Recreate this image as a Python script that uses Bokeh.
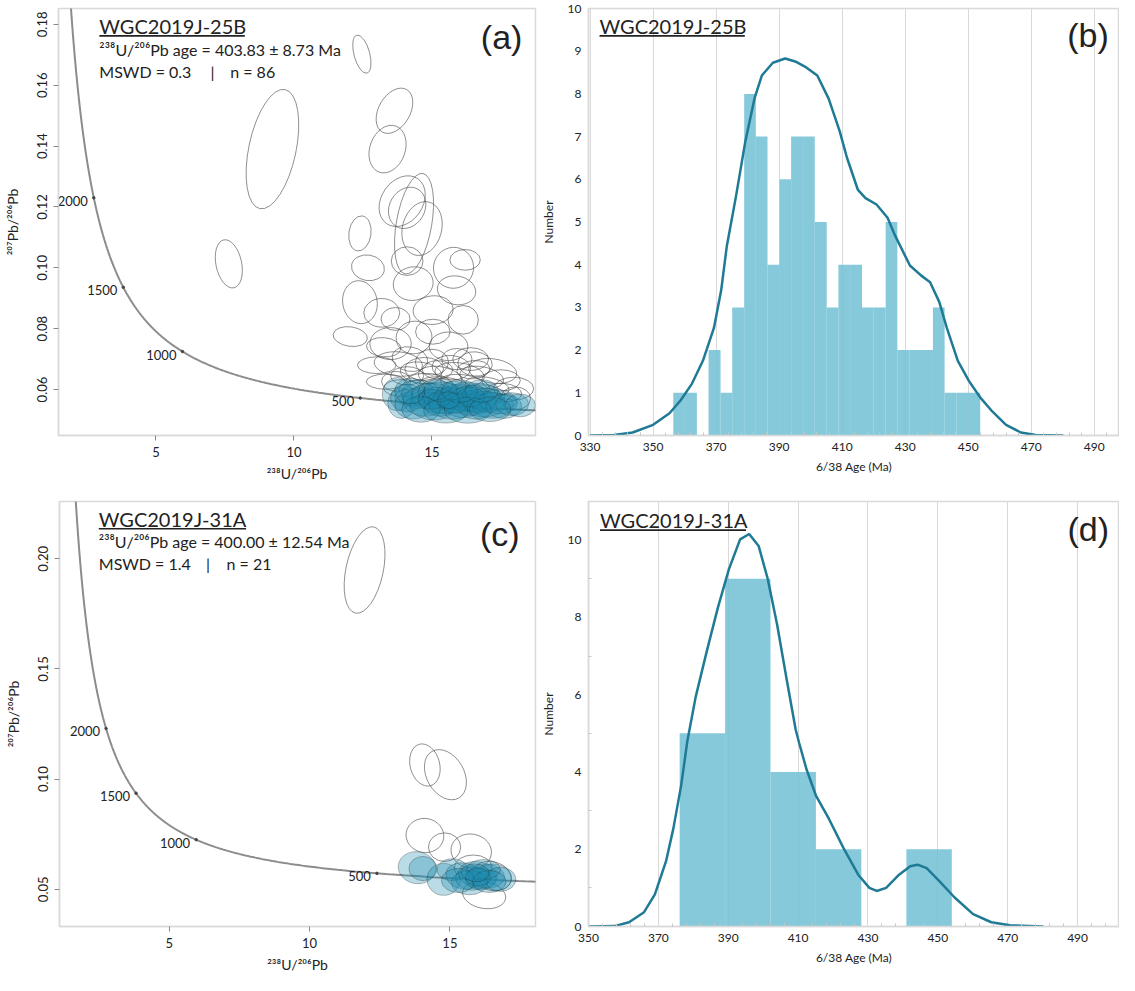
import numpy as np
from bokeh.plotting import figure
from bokeh.layouts import row, column
from bokeh.models import FixedTicker, NumeralTickFormatter, ColumnDataSource
from bokeh.core.properties import value
from bokeh.embed import file_html
from bokeh.resources import INLINE

# ---------------- data ----------------
# Tera-Wasserburg concordia constants
L238 = 1.55125e-10
L235 = 9.8485e-10
U85 = 137.88
CONC_MARK_AGES = [500, 1000, 1500, 2000]
CONC_MARK_LABELS = ["500", "1000", "1500", "2000"]

# (a) WGC2019J-25B  discordant / excluded ellipses (x, y, width, height, angle deg)
A_GRAY_X = [9.22, 7.64, 12.46, 13.64, 13.39, 13.92, 14.35, 14.10, 14.64, 12.39, 12.68, 15.78, 16.2, 14.32,
            12.39, 12.04, 14.10, 15.89, 13.18, 13.68, 15.04, 16.13, 15.03, 14.35, 13.25, 15.6, 16.56, 13.78,
            14.72, 17.2, 13.32, 17.96, 18.02,
            13.5, 13.0, 13.7, 14.2, 14.6, 15.0, 15.3, 15.7, 16.0, 16.4, 16.8, 14.1, 14.9, 15.5, 16.2, 17.0,
            17.5, 14.5, 15.2, 16.5, 13.9, 15.9, 17.6, 16.9, 15.0, 14.3, 16.0, 17.3]
A_GRAY_Y = [0.139, 0.1013, 0.1702, 0.1516, 0.139, 0.1219, 0.1145, 0.1197, 0.1129, 0.1113, 0.100, 0.100, 0.1026, 0.0948,
            0.0887, 0.0774, 0.1022, 0.0926, 0.0852, 0.0832, 0.0861, 0.0829, 0.079, 0.0771, 0.0739, 0.0742, 0.0684, 0.0684,
            0.0668, 0.0661, 0.0626, 0.0603, 0.0571,
            0.0751, 0.0680, 0.0627, 0.0700, 0.0655, 0.0690, 0.0640, 0.0672, 0.0650, 0.0700, 0.0640, 0.0645, 0.0620, 0.0610,
            0.0615, 0.0610, 0.0630, 0.0600, 0.0665, 0.0665, 0.0605, 0.0700, 0.0590, 0.0585, 0.0590, 0.0575, 0.0575, 0.0560]
A_GRAY_W = [1.71, 0.93, 0.57, 1.14, 1.28, 1.5, 1.28, 1.28, 1.42, 0.8, 1.2, 1.45, 1.1, 1.45,
            1.25, 1.25, 1.15, 1.4, 1.3, 1.05, 1.45, 1.1, 1.25, 1.3, 1.25, 1.4, 1.25, 1.75,
            1.4, 1.75, 1.4, 1.45, 1.1,
            1.5, 1.4, 1.05, 1.3, 1.5, 1.2, 1.6, 1.4, 1.8, 1.3, 1.6, 1.2, 1.7, 1.9, 1.8, 1.6,
            1.4, 1.4, 1.1, 1.2, 1.3, 1.1, 1.3, 1.5, 1.5, 1.3, 1.6, 1.5]
A_GRAY_H = [0.040, 0.0161, 0.0129, 0.0161, 0.0161, 0.018, 0.0335, 0.0142, 0.018, 0.0116, 0.0084, 0.0135, 0.0068, 0.011,
            0.0142, 0.0064, 0.0094, 0.0094, 0.0094, 0.0075, 0.0094, 0.0094, 0.0082, 0.0107, 0.0063, 0.0094, 0.008, 0.008,
            0.0075, 0.008, 0.005, 0.0075, 0.0075,
            0.0105, 0.0055, 0.0065, 0.0080, 0.0070, 0.0085, 0.0070, 0.0080, 0.0075, 0.0075, 0.0070, 0.0060, 0.0065, 0.0060,
            0.0065, 0.0060, 0.0070, 0.0060, 0.0060, 0.0060, 0.0055, 0.0070, 0.0060, 0.0060, 0.0060, 0.0055, 0.0060, 0.0055]
A_GRAY_ANG = [-12, 12, 15, -30, -20, -35, -10, -30, -15, -8, -10, -20, 0, 10,
              10, -8, 0, -10, 0, 0, 5, 0, 0, 10, -5, 0, -5, -5,
              0, -8, 0, 0, 0,
              0, 0, 0, -10, -8, 0, -10, -5, -8, 0, -10, 0, -5, -8, -10, -10,
              0, 0, 0, 5, 0, 0, -5, -5, 0, 0, -8, 0]

# (a) concordant analyses (filled)
A_CYAN_X = [13.75, 13.9, 14.1, 14.3, 14.5, 14.7, 14.9, 15.0, 15.1, 15.2, 15.3, 15.4, 15.5, 15.6, 15.7, 15.8,
            15.9, 16.0, 16.1, 16.2, 16.3, 16.4, 16.5, 16.6, 16.7, 16.8, 16.9, 17.0, 17.2, 17.4, 17.6, 17.9,
            18.2, 15.0, 15.8, 16.4, 14.6, 15.5, 16.3, 17.1, 14.2, 15.3, 16.0, 16.8, 15.6]
A_CYAN_Y = [0.0585, 0.0555, 0.0572, 0.0548, 0.0585, 0.0560, 0.0578, 0.0545, 0.0590, 0.0565, 0.0552, 0.0580,
            0.0560, 0.0572, 0.0548, 0.0585, 0.0562, 0.0575, 0.0550, 0.0568, 0.0582, 0.0555, 0.0570, 0.0545,
            0.0562, 0.0578, 0.0552, 0.0565, 0.0548, 0.0560, 0.0545, 0.0552, 0.0548, 0.0568, 0.0555, 0.0575,
            0.0535, 0.0530, 0.0532, 0.0535, 0.0595, 0.0598, 0.0595, 0.0595, 0.0565]
A_CYAN_W = [1.1, 1.0, 1.2, 1.3, 1.2, 1.5, 1.3, 1.6, 1.2, 1.4, 1.2, 1.5, 1.3, 1.1, 1.6, 1.3,
            1.2, 1.5, 1.4, 1.2, 1.4, 1.3, 1.6, 1.3, 1.2, 1.4, 1.5, 1.3, 1.5, 1.4, 1.3, 1.2,
            1.1, 1.0, 1.0, 1.0, 1.4, 1.6, 1.7, 1.5, 1.1, 1.2, 1.3, 1.2, 0.8]
A_CYAN_H = [0.0110, 0.0100, 0.0090, 0.0090, 0.0095, 0.0095, 0.0085, 0.0090, 0.0085, 0.0085, 0.0080, 0.0090,
            0.0080, 0.0075, 0.0090, 0.0085, 0.0080, 0.0085, 0.0085, 0.0080, 0.0085, 0.0080, 0.0085, 0.0085,
            0.0080, 0.0085, 0.0085, 0.0080, 0.0085, 0.0080, 0.0080, 0.0075, 0.0075, 0.0065, 0.0065, 0.0065,
            0.0085, 0.0080, 0.0085, 0.0080, 0.0085, 0.0075, 0.0075, 0.0075, 0.0055]
A_CYAN_ANG = [0, 0, 0, -5, 0, -5, 0, -5, 0, -5, 0, -5, 0, 0, -5, 0,
              -5, 0, -5, 0, -5, 0, -5, 0, 0, -5, 0, -5, 0, -5, 0, 0,
              0, 0, 0, 0, 0, 0, 0, 0, 0, 0, 0, 0, 0]

# (b) histogram WGC2019J-25B
B_EDGES = [356.4, 360.1, 363.9, 367.6, 371.4, 375.1, 378.9, 382.6, 386.3, 390.1, 393.8, 397.6, 401.3, 405.1,
           408.8, 412.5, 416.3, 420.0, 423.8, 427.5, 431.3, 435.0, 438.8, 442.5, 446.3, 450.0, 453.8]
B_COUNTS = [1, 1, 0, 2, 1, 3, 8, 7, 4, 6, 7, 7, 5, 3, 4, 4, 3, 3, 5, 2, 2, 2, 3, 1, 1, 1]
B_KDE_X = [330, 337.6, 343.5, 350, 355.2, 358.7, 362.3, 365.8, 369.3, 371.6, 373.4, 376.3, 379.3, 382.2, 384.5,
           388.0, 391.9, 395.1, 398.6, 402.1, 405.7, 409.2, 411.5, 415.0, 417.4, 420.9, 424.4, 426.8, 431.5,
           435.0, 437.9, 440.8, 443.2, 446.7, 450.2, 453.7, 457.3, 462.0, 466.7, 471.4, 480.2]
B_KDE_Y = [0, 0.01, 0.07, 0.25, 0.52, 0.82, 1.21, 1.75, 2.52, 3.4, 4.44, 5.6, 6.9, 7.9, 8.43,
           8.73, 8.83, 8.76, 8.62, 8.43, 7.89, 7.13, 6.51, 5.75, 5.56, 5.41, 5.1, 4.68, 3.98,
           3.75, 3.59, 3.13, 2.52, 1.75, 1.28, 0.9, 0.59, 0.25, 0.07, 0.01, 0]

# (c) WGC2019J-31A
C_GRAY_X = [11.96, 14.11, 14.84, 14.11, 14.81, 15.76, 15.83, 16.22, 16.5]
C_GRAY_Y = [0.1949, 0.1064, 0.102, 0.0744, 0.0691, 0.0673, 0.0598, 0.0474, 0.0560]
C_GRAY_W = [1.33, 1.05, 1.33, 1.35, 1.15, 1.45, 1.35, 1.55, 1.4]
C_GRAY_H = [0.040, 0.0195, 0.0244, 0.0155, 0.013, 0.0155, 0.0115, 0.0122, 0.013]
C_GRAY_ANG = [-12, 15, 30, -10, 0, -10, 0, -10, -15]
C_CYAN_X = [13.83, 14.04, 14.78, 15.09, 15.5, 15.8, 16.0, 16.1, 16.3, 16.6, 16.8, 15.7, 16.2, 15.3, 16.0, 16.4, 15.9]
C_CYAN_Y = [0.0598, 0.0594, 0.0545, 0.0589, 0.0560, 0.0550, 0.0565, 0.0548, 0.0560, 0.0555, 0.0545, 0.0530,
            0.0590, 0.0540, 0.0555, 0.0535, 0.0575]
C_CYAN_W = [1.35, 1.0, 1.2, 1.1, 1.3, 1.2, 1.4, 1.1, 1.3, 1.2, 1.1, 1.3, 1.2, 1.2, 0.9, 1.2, 1.0]
C_CYAN_H = [0.0145, 0.011, 0.0145, 0.010, 0.012, 0.011, 0.012, 0.010, 0.011, 0.012, 0.011, 0.011, 0.009,
            0.011, 0.008, 0.010, 0.008]
C_CYAN_ANG = [-10, 0, 0, 0, -10, 0, -10, 0, -5, -10, 0, 0, 0, 0, 0, 0, -5]

# (d) histogram WGC2019J-31A
D_EDGES = [376.1, 389.1, 402.1, 415.1, 428.1, 441.0, 454.0]
D_COUNTS = [5, 9, 4, 2, 0, 2]
D_KDE_X = [350, 357.4, 361.6, 365.9, 369.0, 372.2, 374.3, 376.5, 378.3, 380.7, 383.9, 387.0, 390.2, 393.4, 396.0,
           398.7, 401.3, 404.0, 406.6, 409.3, 410.3, 412.4, 415.1, 418.8, 423.0, 427.2, 430.4, 432.5, 435.2,
           438.9, 442.1, 444.2, 446.8, 450.5, 454.8, 460.1, 465.3, 470.6, 480.2]
D_KDE_Y = [0, 0.01, 0.11, 0.37, 0.83, 1.69, 2.54, 3.64, 4.8, 5.95, 7.14, 8.24, 9.25, 10.02, 10.16,
           9.85, 9.0, 7.81, 6.46, 5.1, 4.75, 4.07, 3.39, 2.79, 2.03, 1.34, 1.0, 0.92, 1.0,
           1.34, 1.56, 1.6, 1.51, 1.17, 0.75, 0.32, 0.11, 0.03, 0]

# ---------------- styling ----------------
FONT = "Lato"
FRAME = "#d9d9d9"
TXT = "#222222"
BAR = "#71c0d5"
KDE = "#1f7a96"
CYAN = "#1a8aae"


def concordia(ages_ma):
    t = np.asarray(ages_ma, dtype=float) * 1e6
    e238 = np.expm1(L238 * t)
    e235 = np.expm1(L235 * t)
    return 1.0 / e238, e235 / e238 / U85


def base_fig(w, h, xr, yr, left, right, top, bottom):
    p = figure(width=w, height=h, x_range=xr, y_range=yr, output_backend="svg", toolbar_location=None,
               min_border_left=left, min_border_right=right, min_border_top=top, min_border_bottom=bottom)
    p.outline_line_color = FRAME
    p.outline_line_width = 1.5
    for ax in (p.xaxis[0], p.yaxis[0]):
        ax.axis_line_color = FRAME
        ax.axis_line_width = 1.5
        ax.major_label_text_font = FONT
        ax.major_label_text_color = TXT
        ax.axis_label_text_font = FONT
        ax.axis_label_text_font_style = "normal"
        ax.axis_label_text_color = TXT
    p.xgrid.grid_line_color = None
    p.ygrid.grid_line_color = None
    return p


def add_ellipses(p, xs, ys, ws, hs, angs, **kw):
    src = ColumnDataSource(dict(x=xs, y=ys, w=ws, h=hs, a=angs))
    p.ellipse(x="x", y="y", width="w", height="h", angle="a", angle_units="deg", source=src, **kw)


def add_text(p, x, y, text, size, font=FONT):
    p.text(x=[x], y=[y], text=[text], text_font=value(font), text_font_size=size, text_color=TXT,
           text_baseline="middle", text_align="left")


def underline(p, x0, x1, y):
    p.segment(x0=[x0], y0=[y], x1=[x1], y1=[y], line_color=TXT, line_width=1.6)


def conc_panel(p, ages):
    cx, cy = concordia(ages)
    p.line(cx, cy, line_color="#8c8c8c", line_width=2)
    mx, my = concordia(CONC_MARK_AGES)
    p.scatter(mx, my, size=2.5, color="#444444")
    p.text(x=mx, y=my, text=CONC_MARK_LABELS, text_align="right", text_baseline="middle", x_offset=-6,
           y_offset=3, text_font=value(FONT), text_font_size="13px", text_color=TXT)


def tw_axes(p, yticks):
    p.xaxis.ticker = FixedTicker(ticks=[5, 10, 15])
    p.yaxis.ticker = FixedTicker(ticks=yticks)
    p.yaxis.formatter = NumeralTickFormatter(format="0.00")
    p.yaxis.major_label_orientation = "vertical"
    for ax in (p.xaxis[0], p.yaxis[0]):
        ax.major_tick_line_color = "#888888"
        ax.major_tick_out = 5
        ax.major_tick_in = 0
        ax.minor_tick_line_color = None
        ax.major_label_text_font_size = "13px"
        ax.axis_label_text_font_size = "14px"
        ax.major_label_standoff = 6
    p.xaxis.axis_label = "²³⁸U/²⁰⁶Pb"
    p.yaxis.axis_label = "²⁰⁷Pb/²⁰⁶Pb"
    p.xaxis.axis_label_standoff = 5
    p.yaxis.axis_label_standoff = 14


def hist_axes(p, xticks, yticks, yminor):
    p.xaxis.ticker = FixedTicker(ticks=xticks, minor_ticks=[t + d for t in [330] + xticks for d in (4, 8, 12, 16)])
    p.yaxis.ticker = FixedTicker(ticks=yticks, minor_ticks=yminor)
    p.xgrid.ticker = FixedTicker(ticks=xticks)
    p.xgrid.grid_line_color = FRAME
    p.xgrid.grid_line_width = 1
    for ax in (p.xaxis[0], p.yaxis[0]):
        ax.major_tick_out = 0
        ax.major_tick_in = 0
        ax.minor_tick_out = 0
        ax.minor_tick_in = 3
        ax.minor_tick_line_color = "#c8c8c8"
        ax.major_label_text_font_size = "12px"
        ax.axis_label_text_font_size = "12px"
        ax.major_label_standoff = 7
    p.xaxis.axis_label = "6/38 Age (Ma)"
    p.yaxis.axis_label = "Number"
    p.xaxis.axis_label_standoff = 5
    p.yaxis.axis_label_standoff = 9


CURVE_AGES = np.linspace(300, 3500, 700)

# ---------------- (a) ----------------
pa = base_fig(537, 488, (1.47, 18.75), (0.0449, 0.1852), 58, 2, 8, 53)
tw_axes(pa, [0.06, 0.08, 0.10, 0.12, 0.14, 0.16, 0.18])
conc_panel(pa, CURVE_AGES)
add_ellipses(pa, A_GRAY_X, A_GRAY_Y, A_GRAY_W, A_GRAY_H, A_GRAY_ANG,
             fill_color=None, line_color="#444444", line_width=0.7, line_alpha=0.85)
add_ellipses(pa, A_CYAN_X, A_CYAN_Y, A_CYAN_W, A_CYAN_H, A_CYAN_ANG,
             fill_color=CYAN, fill_alpha=0.3, line_color="#222222", line_width=0.6, line_alpha=0.5)
add_text(pa, 2.95, 0.1795, "WGC2019J-25B", "20px")
underline(pa, 2.95, 8.22, 0.1762)
add_text(pa, 2.95, 0.1716, "²³⁸U/²⁰⁶Pb age = 403.83 ± 8.73 Ma", "16px")
add_text(pa, 2.95, 0.1645, "MSWD = 0.3", "16px")
add_text(pa, 6.98, 0.1645, "|", "16px")
add_text(pa, 7.69, 0.1645, "n = 86", "16px")
add_text(pa, 16.77, 0.1760, "(a)", "34px", font="Liberation Sans")

# ---------------- (b) ----------------
pb = base_fig(582, 488, (329.5, 498), (0, 10), 44, 0, 8, 53)
hist_axes(pb, [330, 350, 370, 390, 410, 430, 450, 470, 490], list(range(0, 11)), [])
pb.quad(left=B_EDGES[:-1], right=B_EDGES[1:], bottom=0, top=B_COUNTS, fill_color=BAR, fill_alpha=0.85,
        line_color=None)
pb.line(B_KDE_X, B_KDE_Y, line_color=KDE, line_width=2.5)
add_text(pb, 333.0, 9.60, "WGC2019J-25B", "20px")
underline(pb, 333.0, 379.1, 9.36)
add_text(pb, 481.4, 9.37, "(b)", "34px", font="Liberation Sans")

# ---------------- (c) ----------------
pc = base_fig(537, 487, (1.09, 18.05), (0.0331, 0.226), 59, 2, 13, 47)
tw_axes(pc, [0.05, 0.10, 0.15, 0.20])
conc_panel(pc, CURVE_AGES)
add_ellipses(pc, C_GRAY_X, C_GRAY_Y, C_GRAY_W, C_GRAY_H, C_GRAY_ANG,
             fill_color=None, line_color="#444444", line_width=0.7, line_alpha=0.85)
add_ellipses(pc, C_CYAN_X, C_CYAN_Y, C_CYAN_W, C_CYAN_H, C_CYAN_ANG,
             fill_color=CYAN, fill_alpha=0.3, line_color="#222222", line_width=0.6, line_alpha=0.5)
add_text(pc, 2.49, 0.2179, "WGC2019J-31A", "20px")
underline(pc, 2.49, 7.74, 0.2136)
add_text(pc, 2.49, 0.2078, "²³⁸U/²⁰⁶Pb age = 400.00 ± 12.54 Ma", "16px")
add_text(pc, 2.49, 0.1980, "MSWD = 1.4", "16px")
add_text(pc, 6.31, 0.1980, "|", "16px")
add_text(pc, 7.04, 0.1980, "n = 21", "16px")
add_text(pc, 16.07, 0.2113, "(c)", "34px", font="Liberation Sans")

# ---------------- (d) ----------------
pd_ = base_fig(582, 487, (350, 502), (0, 11), 44, 0, 13, 49)
hist_axes(pd_, [350, 370, 390, 410, 430, 450, 470, 490], [0, 2, 4, 6, 8, 10], [1, 3, 5, 7, 9])
pd_.quad(left=D_EDGES[:-1], right=D_EDGES[1:], bottom=0, top=D_COUNTS, fill_color=BAR, fill_alpha=0.85,
         line_color=None)
pd_.line(D_KDE_X, D_KDE_Y, line_color=KDE, line_width=2.5)
add_text(pd_, 353.3, 10.53, "WGC2019J-31A", "20px")
underline(pd_, 353.3, 395.1, 10.26)
add_text(pd_, 487.1, 10.28, "(d)", "34px", font="Liberation Sans")

layout = column(row(pa, pb), row(pc, pd_))
open("out.html", "w").write(file_html(layout, INLINE))
